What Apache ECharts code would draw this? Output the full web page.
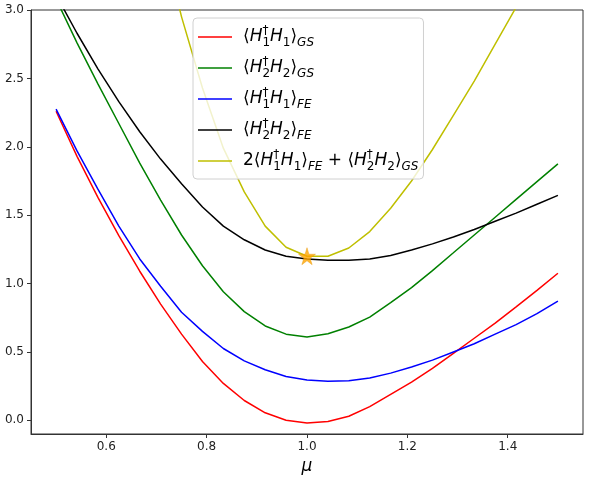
<!DOCTYPE html>
<html>
<head>
<meta charset="utf-8">
<script src="https://cdn.jsdelivr.net/npm/echarts@6/dist/echarts.min.js"></script>
<style>
  html, body { margin: 0; padding: 0; background: #fff; }
  #chart { width: 591px; height: 478px; }
</style>
</head>
<body>
<div id="chart"></div>
<script>
// mu values (25 points, 0.5 .. 1.5)
const mu = [0.5, 0.5417, 0.5833, 0.625, 0.6667, 0.7083, 0.75, 0.7917, 0.8333, 0.875,
  0.9167, 0.9583, 1.0, 1.0417, 1.0833, 1.125, 1.1667, 1.2083, 1.25, 1.2917,
  1.3333, 1.375, 1.4167, 1.4583, 1.5];

const h1GS = [2.26, 1.93, 1.63, 1.35, 1.09, 0.85, 0.63, 0.43, 0.27, 0.145,
  0.055, 0.0, -0.02, -0.008, 0.03, 0.10, 0.19, 0.28, 0.38, 0.49,
  0.60, 0.71, 0.83, 0.95, 1.075];
const h2GS = [3.08, 2.76, 2.46, 2.17, 1.88, 1.61, 1.355, 1.13, 0.94, 0.795,
  0.69, 0.63, 0.61, 0.633, 0.682, 0.755, 0.86, 0.97, 1.095, 1.225,
  1.355, 1.485, 1.615, 1.745, 1.875];
const h1FE = [2.275, 1.97, 1.69, 1.42, 1.18, 0.98, 0.79, 0.65, 0.525, 0.435,
  0.37, 0.32, 0.295, 0.285, 0.29, 0.31, 0.345, 0.39, 0.44, 0.50,
  0.56, 0.63, 0.70, 0.78, 0.872];
const h2FE = [3.11, 2.83, 2.57, 2.33, 2.11, 1.91, 1.73, 1.56, 1.42, 1.32,
  1.245, 1.20, 1.18, 1.17, 1.17, 1.18, 1.205, 1.245, 1.29, 1.34,
  1.395, 1.455, 1.515, 1.58, 1.645];
const combo = [7.63, 6.70, 5.84, 5.01, 4.24, 3.57, 2.95, 2.43, 1.99, 1.67,
  1.42, 1.265, 1.20, 1.20, 1.26, 1.38, 1.55, 1.75, 1.98, 2.23,
  2.48, 2.75, 3.02, 3.30, 3.62];

const starPoint = [[1.0, 1.2]];

const xTicks = [0.6, 0.8, 1.0, 1.2, 1.4];
const yTicks = [0.0, 0.5, 1.0, 1.5, 2.0, 2.5, 3.0];

const names = ['h1gs', 'h2gs', 'h1fe', 'h2fe', 'combo'];
const labels = {
  h1gs: '{n|⟨}{i|H}{sp|†}{sb|1}{i|H}{sb|1}{n|⟩}{ss|GS}',
  h2gs: '{n|⟨}{i|H}{sp|†}{sb|2}{i|H}{sb|2}{n|⟩}{ss|GS}',
  h1fe: '{n|⟨}{i|H}{sp|†}{sb|1}{i|H}{sb|1}{n|⟩}{ss|FE}',
  h2fe: '{n|⟨}{i|H}{sp|†}{sb|2}{i|H}{sb|2}{n|⟩}{ss|FE}',
  combo: '{n|2⟨}{i|H}{sp|†}{sb|1}{i|H}{sb|1}{n|⟩}{ss|FE}{n| + ⟨}{i|H}{sp|†}{sb|2}{i|H}{sb|2}{n|⟩}{ss|GS}'
};
const colors = ['#ff0000', '#008000', '#0000ff', '#000000', '#bfbf00'];
const seriesData = [h1GS, h2GS, h1FE, h2FE, combo];

const font = 'DejaVu Sans';

const chart = echarts.init(document.getElementById('chart'));

const lineSeries = names.map((nm, k) => ({
  name: nm,
  type: 'line',
  data: mu.map((x, i) => [x, seriesData[k][i]]),
  showSymbol: false,
  symbol: 'none',
  smooth: false,
  clip: true,
  color: colors[k],
  lineStyle: { width: 1.5, color: colors[k] },
  emphasis: { disabled: true },
  z: 2
}));

const option = {
  animation: false,
  grid: {
    left: 31, right: 8, top: 10, bottom: 44,
    outerBoundsMode: 'none',
    containLabel: false,
    show: true, borderColor: '#333', borderWidth: 1, backgroundColor: 'transparent'
  },
  xAxis: {
    type: 'value',
    min: 0.45, max: 1.55,
    name: 'μ',
    nameLocation: 'middle',
    nameGap: 23,
    nameTextStyle: { fontFamily: font, fontStyle: 'italic', fontSize: 17, color: '#000' },
    axisLine: { show: true, onZero: false, lineStyle: { color: '#333', width: 1 } },
    axisTick: { show: true, length: 4, customValues: xTicks, lineStyle: { color: '#333' } },
    axisLabel: {
      customValues: xTicks, margin: 7,
      fontFamily: font, fontSize: 12, color: '#222',
      formatter: v => v.toFixed(1)
    },
    splitLine: { show: false }
  },
  yAxis: {
    type: 'value',
    min: -0.1, max: 3.0,
    axisLine: { show: true, onZero: false, lineStyle: { color: '#333', width: 1 } },
    axisTick: { show: true, length: 4, customValues: yTicks, lineStyle: { color: '#333' } },
    axisLabel: {
      customValues: yTicks, margin: 7,
      fontFamily: font, fontSize: 12, color: '#222',
      formatter: v => v.toFixed(1)
    },
    splitLine: { show: false }
  },
  legend: {
    data: names,
    orient: 'vertical',
    left: 193, top: 18,
    padding: [7, 5, 6, 5],
    itemWidth: 34,
    itemHeight: 1.5,
    itemGap: 7,
    icon: 'rect',
    backgroundColor: 'rgba(255,255,255,0.8)',
    borderColor: '#d0d0d0',
    borderWidth: 1,
    borderRadius: 4,
    selectedMode: false,
    formatter: nm => labels[nm],
    textStyle: {
      padding: [0, 0, 0, 6],
      rich: {
        n: { fontFamily: font, fontSize: 17, color: '#000', lineHeight: 24 },
        i: { fontFamily: font, fontSize: 17, fontStyle: 'italic', color: '#000', lineHeight: 24 },
        sp: { fontFamily: font, fontSize: 12, color: '#000', lineHeight: 11, verticalAlign: 'top', width: 0 },
        sb: { fontFamily: font, fontSize: 12, color: '#000', lineHeight: 11, verticalAlign: 'bottom' },
        ss: { fontFamily: font, fontSize: 12, fontStyle: 'italic', color: '#000', lineHeight: 11, verticalAlign: 'bottom' }
      }
    }
  },
  series: [
    ...lineSeries,
    {
      name: 'star',
      type: 'scatter',
      data: starPoint,
      symbol: 'path://M50,0 L61,35 L98,35 L68,57 L79,91 L50,70 L21,91 L32,57 L2,35 L39,35 Z',
      symbolSize: 17,
      itemStyle: { color: '#ffa500', borderColor: '#e69500', borderWidth: 0.5 },
      emphasis: { disabled: true },
      z: 5
    }
  ]
};

chart.setOption(option);
</script>
</body>
</html>
